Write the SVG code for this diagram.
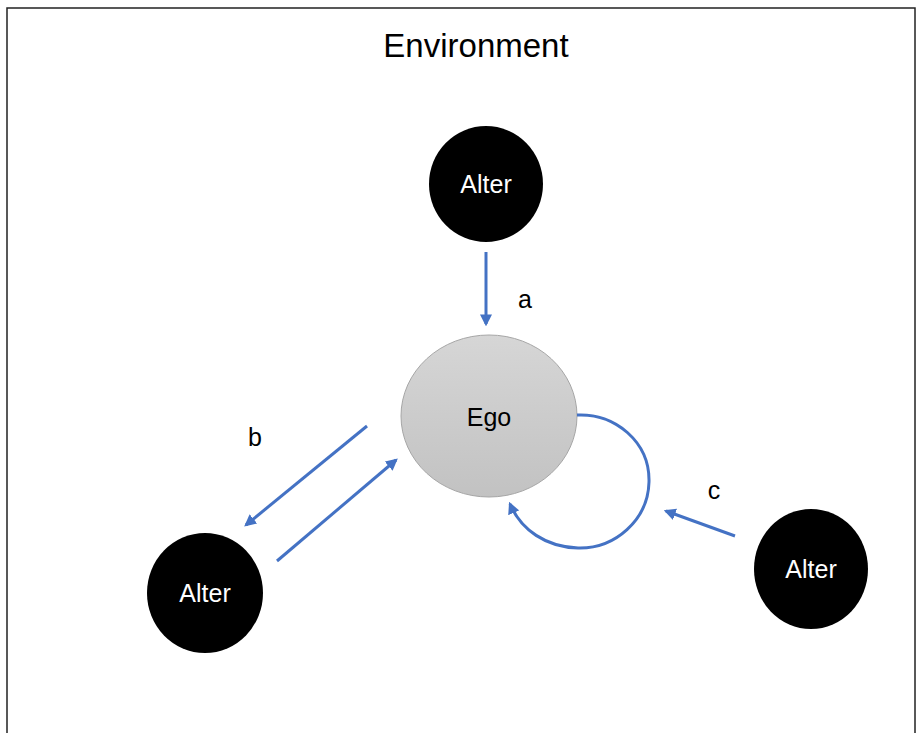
<svg xmlns="http://www.w3.org/2000/svg" width="921" height="733" viewBox="0 0 921 733">
<style>
.lbl{font-family:"Liberation Sans",Arial,sans-serif;font-size:25px;text-anchor:middle;}
.alter{fill:#000;}
.wt{fill:#fff;}
.conn{stroke:#4472c4;stroke-width:3;fill:none;marker-end:url(#ah);}
</style>
<defs>
<marker id="ah" viewBox="0 0 10 10" refX="8" refY="5" markerWidth="4" markerHeight="4" orient="auto" markerUnits="strokeWidth">
<path d="M0,0 L10,5 L0,10 Z" fill="#4472c4"/>
</marker>
<linearGradient id="egoG" x1="0" y1="0" x2="0" y2="1">
<stop offset="0" stop-color="#d6d6d6"/>
<stop offset="1" stop-color="#c2c2c2"/>
</linearGradient>
</defs>
<rect width="921" height="733" fill="#fff"/>
<rect x="7" y="8" width="908" height="740" fill="none" stroke="#222" stroke-width="1.5"/>
<text class="lbl" x="476" y="57" style="font-size:33px">Environment</text>
<g id="ego">
<ellipse cx="489" cy="416" rx="88" ry="81" fill="url(#egoG)" stroke="#a6a6a6" stroke-width="1"/>
<text class="lbl" x="489" y="426">Ego</text>
</g>
<g id="alter-top">
<ellipse class="alter" cx="486" cy="184" rx="57" ry="58"/>
<text class="lbl wt" x="486" y="193">Alter</text>
</g>
<g id="alter-left">
<ellipse class="alter" cx="205" cy="593" rx="58" ry="60"/>
<text class="lbl wt" x="205" y="602">Alter</text>
</g>
<g id="alter-right">
<ellipse class="alter" cx="811" cy="569" rx="57" ry="60"/>
<text class="lbl wt" x="811" y="578">Alter</text>
</g>
<g id="connectors">
<line class="conn" x1="486" y1="252" x2="486" y2="324"/>
<line class="conn" x1="367" y1="426" x2="246" y2="525"/>
<line class="conn" x1="277" y1="561" x2="396" y2="460"/>
<line class="conn" x1="735" y1="536" x2="666" y2="511"/>
<path class="conn" d="M577,415 C615,413 650,442 649,482 C648,520 615,549 578,548 C546,547 521,530 510,504"/>
</g>
<text class="lbl" x="525" y="308">a</text>
<text class="lbl" x="255" y="446">b</text>
<text class="lbl" x="714" y="499">c</text>
</svg>
